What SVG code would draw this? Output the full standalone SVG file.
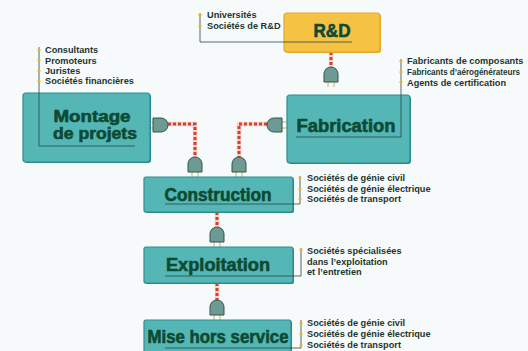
<svg xmlns="http://www.w3.org/2000/svg" xmlns:xlink="http://www.w3.org/1999/xlink" width="528" height="351" viewBox="0 0 528 351">
<style>
.box{fill:#55b6b6;stroke:#2f8d8f;stroke-width:1.2}
.shadow{fill:#2f8587}
.rd{fill:#f6c244;stroke:#e3a72a;stroke-width:1.2}
.title{font-family:"Liberation Sans",Arial,sans-serif;font-weight:bold;font-size:18px;fill:#0c4a33;stroke:#0c4a33;stroke-width:0.6;text-anchor:middle}
.t2{font-size:16px}
.lbl{font-family:"Liberation Sans",Arial,sans-serif;font-weight:bold;font-size:9.2px;fill:#1d3630}
.sm{font-size:8.6px}
.bl{fill:none;stroke:#2b4747;stroke-width:0.8}
.dot{fill:#e6b52f}
.cableBg{fill:none;stroke:#f2d4cc;stroke-width:4.5}
.cable{fill:none;stroke:#d6402f;stroke-width:3;stroke-dasharray:3 2}
.plug{fill:#6d9a92;stroke:#34524d;stroke-width:1}
.prong{stroke:#d9cfa2;stroke-width:1.6}
</style>
<defs>
<g id="plug">
<line class="prong" x1="4" y1="14" x2="4" y2="20"/>
<line class="prong" x1="10" y1="14" x2="10" y2="20"/>
<path class="plug" d="M0,15 V7 A7,7 0 0 1 14,7 V15 Z"/>
</g>
</defs>
<rect width="528" height="351" fill="#f7fafa"/>

<g id="connectors">
<path class="cableBg" d="M168,124 H195 V157"/>
<path class="cable" d="M168,124 H195 V157"/>
<path class="cableBg" d="M267,124 H239 V157"/>
<path class="cable" d="M267,124 H239 V157"/>
<path class="cableBg" d="M331,52 V67"/>
<path class="cable" d="M331,52 V67"/>
<path class="cableBg" d="M217,212 V227"/>
<path class="cable" d="M217,212 V227"/>
<path class="cableBg" d="M217,283 V300"/>
<path class="cable" d="M217,283 V300"/>
<use xlink:href="#plug" href="#plug" transform="translate(168,118) rotate(90)"/>
<use xlink:href="#plug" href="#plug" transform="translate(267,132) rotate(-90)"/>
<use xlink:href="#plug" href="#plug" transform="translate(188,157)"/>
<use xlink:href="#plug" href="#plug" transform="translate(232,157)"/>
<use xlink:href="#plug" href="#plug" transform="translate(324,67)"/>
<use xlink:href="#plug" href="#plug" transform="translate(210,227)"/>
<use xlink:href="#plug" href="#plug" transform="translate(210,300)"/>
</g>

<g id="rd">
<rect x="285" y="14" width="96" height="39" rx="3" fill="#e0a52a"/>
<rect class="rd" x="284" y="13" width="96" height="39" rx="3"/>
<text class="title" x="332" y="37" textLength="37" lengthAdjust="spacingAndGlyphs">R&amp;D</text>
<path class="bl" d="M200,13 V42 H352"/>
<circle class="dot" cx="200" cy="15" r="1.6"/>
<circle class="dot" cx="200" cy="26" r="1.6"/>
<text class="lbl" x="207" y="18">Universités</text>
<text class="lbl" x="207" y="29">Sociétés de R&amp;D</text>
</g>

<g id="montage">
<rect class="shadow" x="24" y="94" width="127" height="69" rx="3"/>
<rect class="box" x="23" y="93" width="127" height="69" rx="3"/>
<text class="title t2" x="92" y="122" textLength="77" lengthAdjust="spacingAndGlyphs">Montage</text>
<text class="title t2" x="95" y="139" textLength="84" lengthAdjust="spacingAndGlyphs">de projets</text>
<path class="bl" d="M39,47 V146 H135"/>
<circle class="dot" cx="39" cy="50" r="1.6"/>
<circle class="dot" cx="39" cy="60" r="1.6"/>
<circle class="dot" cx="39" cy="71" r="1.6"/>
<circle class="dot" cx="39" cy="81" r="1.6"/>
<text class="lbl" x="45" y="53">Consultants</text>
<text class="lbl" x="45" y="64">Promoteurs</text>
<text class="lbl" x="45" y="74">Juristes</text>
<text class="lbl" x="45" y="84">Sociétés financières</text>
</g>

<g id="fabrication">
<rect class="shadow" x="288" y="96" width="123" height="68" rx="3"/>
<rect class="box" x="287" y="95" width="123" height="68" rx="3"/>
<text class="title" x="346" y="132" textLength="99" lengthAdjust="spacingAndGlyphs">Fabrication</text>
<path class="bl" d="M401,59 V137 H296"/>
<circle class="dot" cx="401" cy="61" r="1.6"/>
<circle class="dot" cx="401" cy="72" r="1.6"/>
<circle class="dot" cx="401" cy="82" r="1.6"/>
<text class="lbl" x="407" y="64">Fabricants de composants</text>
<text class="lbl sm" x="407" y="75" textLength="113" lengthAdjust="spacingAndGlyphs">Fabricants d’aérogénérateurs</text>
<text class="lbl" x="407" y="86">Agents de certification</text>
</g>

<g id="construction">
<rect class="shadow" x="145" y="178" width="149" height="35" rx="2"/>
<rect class="box" x="144" y="177" width="149" height="35" rx="2"/>
<text class="title" x="218" y="201" textLength="107" lengthAdjust="spacingAndGlyphs">Construction</text>
<path class="bl" d="M300,176 V204 H165"/>
<circle class="dot" cx="300" cy="178" r="1.6"/>
<circle class="dot" cx="300" cy="189" r="1.6"/>
<circle class="dot" cx="300" cy="199" r="1.6"/>
<text class="lbl" x="307" y="181">Sociétés de génie civil</text>
<text class="lbl" x="307" y="192">Sociétés de génie électrique</text>
<text class="lbl" x="307" y="202">Sociétés de transport</text>
</g>

<g id="exploitation">
<rect class="shadow" x="145" y="248" width="149" height="36" rx="2"/>
<rect class="box" x="144" y="247" width="149" height="36" rx="2"/>
<text class="title" x="218" y="271" textLength="104" lengthAdjust="spacingAndGlyphs">Exploitation</text>
<path class="bl" d="M301,248 V276 H165"/>
<circle class="dot" cx="301" cy="250" r="1.6"/>
<text class="lbl" x="307" y="254">Sociétés spécialisées</text>
<text class="lbl" x="307" y="265">dans l’exploitation</text>
<text class="lbl" x="307" y="275">et l’entretien</text>
</g>

<g id="mise">
<rect class="shadow" x="145" y="321" width="147" height="36" rx="2"/>
<rect class="box" x="144" y="320" width="147" height="36" rx="2"/>
<text class="title" x="218" y="343" textLength="141" lengthAdjust="spacingAndGlyphs">Mise hors service</text>
<path class="bl" d="M301,320 V348 H165"/>
<circle class="dot" cx="301" cy="323" r="1.6"/>
<circle class="dot" cx="301" cy="334" r="1.6"/>
<circle class="dot" cx="301" cy="345" r="1.6"/>
<text class="lbl" x="307" y="326">Sociétés de génie civil</text>
<text class="lbl" x="307" y="337">Sociétés de génie électrique</text>
<text class="lbl" x="307" y="348">Sociétés de transport</text>
</g>
</svg>
